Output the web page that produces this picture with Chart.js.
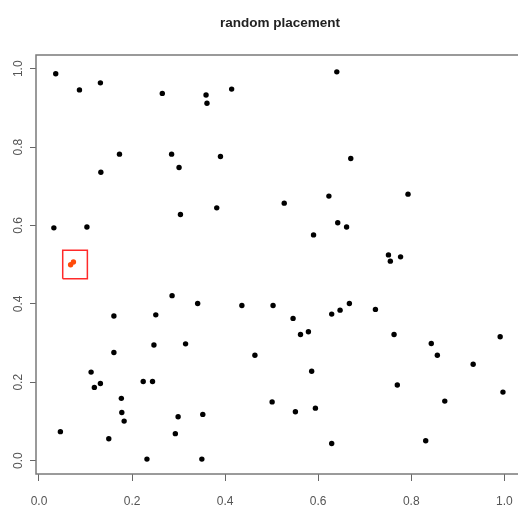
<!DOCTYPE html>
<html>
<head>
<meta charset="utf-8">
<script src="https://cdn.jsdelivr.net/npm/chart.js@4/dist/chart.umd.min.js"></script>
<style>
  html, body { margin: 0; padding: 0; background: #fff; overflow: hidden; }
  #wrap { width: 518px; height: 505px; overflow: hidden; }
</style>
</head>
<body>
<div id="wrap"><canvas id="chart" width="560" height="505"></canvas></div>
<script>
const titleText = 'random placement';
const tickValues = [0, 0.2, 0.4, 0.6, 0.8, 1.0];

// black points
const xs = [0.036, 0.087, 0.132, 0.265, 0.359, 0.361, 0.414, 0.173, 0.285, 0.133,
            0.301, 0.390, 0.032, 0.103, 0.304, 0.382, 0.640, 0.670, 0.527, 0.623,
            0.793, 0.642, 0.661, 0.590, 0.751, 0.755, 0.777, 0.286, 0.341, 0.436,
            0.161, 0.251, 0.161, 0.247, 0.315, 0.464, 0.112, 0.119, 0.132, 0.224,
            0.244, 0.177, 0.178, 0.183, 0.299, 0.352, 0.046, 0.150, 0.293, 0.232,
            0.350, 0.503, 0.546, 0.562, 0.579, 0.629, 0.647, 0.667, 0.723, 0.763,
            0.843, 0.856, 0.933, 0.991, 0.997, 0.586, 0.770, 0.501, 0.551, 0.594,
            0.872, 0.629, 0.831];
const ys = [0.987, 0.946, 0.964, 0.937, 0.933, 0.912, 0.948, 0.782, 0.782, 0.736,
            0.748, 0.776, 0.594, 0.596, 0.628, 0.645, 0.992, 0.771, 0.657, 0.675,
            0.680, 0.607, 0.596, 0.576, 0.525, 0.509, 0.520, 0.421, 0.401, 0.396,
            0.369, 0.372, 0.276, 0.295, 0.298, 0.269, 0.226, 0.187, 0.197, 0.202,
            0.202, 0.159, 0.123, 0.101, 0.112, 0.118, 0.074, 0.056, 0.069, 0.004,
            0.004, 0.396, 0.363, 0.322, 0.329, 0.374, 0.384, 0.401, 0.386, 0.322,
            0.299, 0.269, 0.246, 0.316, 0.175, 0.228, 0.193, 0.150, 0.125, 0.134,
            0.152, 0.044, 0.051];

// highlighted points and the box around them
const hotX = [0.068, 0.074];
const hotY = [0.500, 0.507];
const boxX = [0.051, 0.104];
const boxY = [0.464, 0.537];

const toPoints = (a, b) => a.map((x, i) => ({ x, y: b[i] }));
const boxPoints = [
    { x: boxX[0], y: boxY[0] }, { x: boxX[1], y: boxY[0] },
    { x: boxX[1], y: boxY[1] }, { x: boxX[0], y: boxY[1] },
    { x: boxX[0], y: boxY[0] }
];

const frame = {
    id: 'frame',
    afterDraw(chart) {
        const { ctx, chartArea: a } = chart;
        ctx.save();
        ctx.strokeStyle = '#7a7a7a';
        ctx.lineWidth = 1.5;
        ctx.strokeRect(a.left, a.top, a.right - a.left, a.bottom - a.top);
        ctx.restore();
    }
};

const fixTicks = scale => { scale.ticks = tickValues.map(v => ({ value: v })); };
const tickFont = { family: "'Liberation Sans', Arial, sans-serif", size: 12 };

new Chart(document.getElementById('chart').getContext('2d'), {
    type: 'scatter',
    data: {
        datasets: [
            {
                label: 'points',
                data: toPoints(xs, ys),
                backgroundColor: '#000',
                borderColor: '#000',
                pointRadius: 2.7,
                borderWidth: 0
            },
            {
                label: 'highlight',
                data: toPoints(hotX, hotY),
                backgroundColor: '#ff4a0a',
                borderColor: '#ff4a0a',
                pointRadius: 2.7,
                borderWidth: 0
            },
            {
                label: 'box',
                data: boxPoints,
                showLine: true,
                borderColor: '#ff2a2a',
                borderWidth: 1.5,
                pointRadius: 0,
                fill: false
            }
        ]
    },
    options: {
        responsive: false,
        animation: false,
        devicePixelRatio: 1,
        layout: { padding: 0 },
        plugins: {
            legend: { display: false },
            tooltip: { enabled: false },
            title: {
                display: true,
                text: titleText,
                color: '#222',
                font: { family: "'Liberation Sans', Arial, sans-serif", size: 13.5, weight: 'bold', lineHeight: 1.2 },
                padding: { top: 15, bottom: 23.8 }
            }
        },
        scales: {
            x: {
                type: 'linear',
                min: -0.0064,
                max: 1.111,
                afterBuildTicks: fixTicks,
                afterFit: s => { s.height = 31; },
                border: { display: false },
                grid: { drawOnChartArea: false, drawTicks: true, tickLength: 7, color: '#666', tickWidth: 1 },
                ticks: { color: '#555', font: tickFont, padding: 13, maxRotation: 0, callback: v => v.toFixed(1) }
            },
            y: {
                type: 'linear',
                min: -0.034,
                max: 1.035,
                afterBuildTicks: fixTicks,
                afterFit: s => { s.width = 36; },
                border: { display: false },
                grid: { drawOnChartArea: false, drawTicks: true, tickLength: 6, color: '#666', tickWidth: 1 },
                ticks: { color: '#555', font: tickFont, padding: 3, minRotation: 90, maxRotation: 90, crossAlign: 'center', callback: v => v.toFixed(1) }
            }
        }
    },
    plugins: [frame]
});
</script>
</body>
</html>
